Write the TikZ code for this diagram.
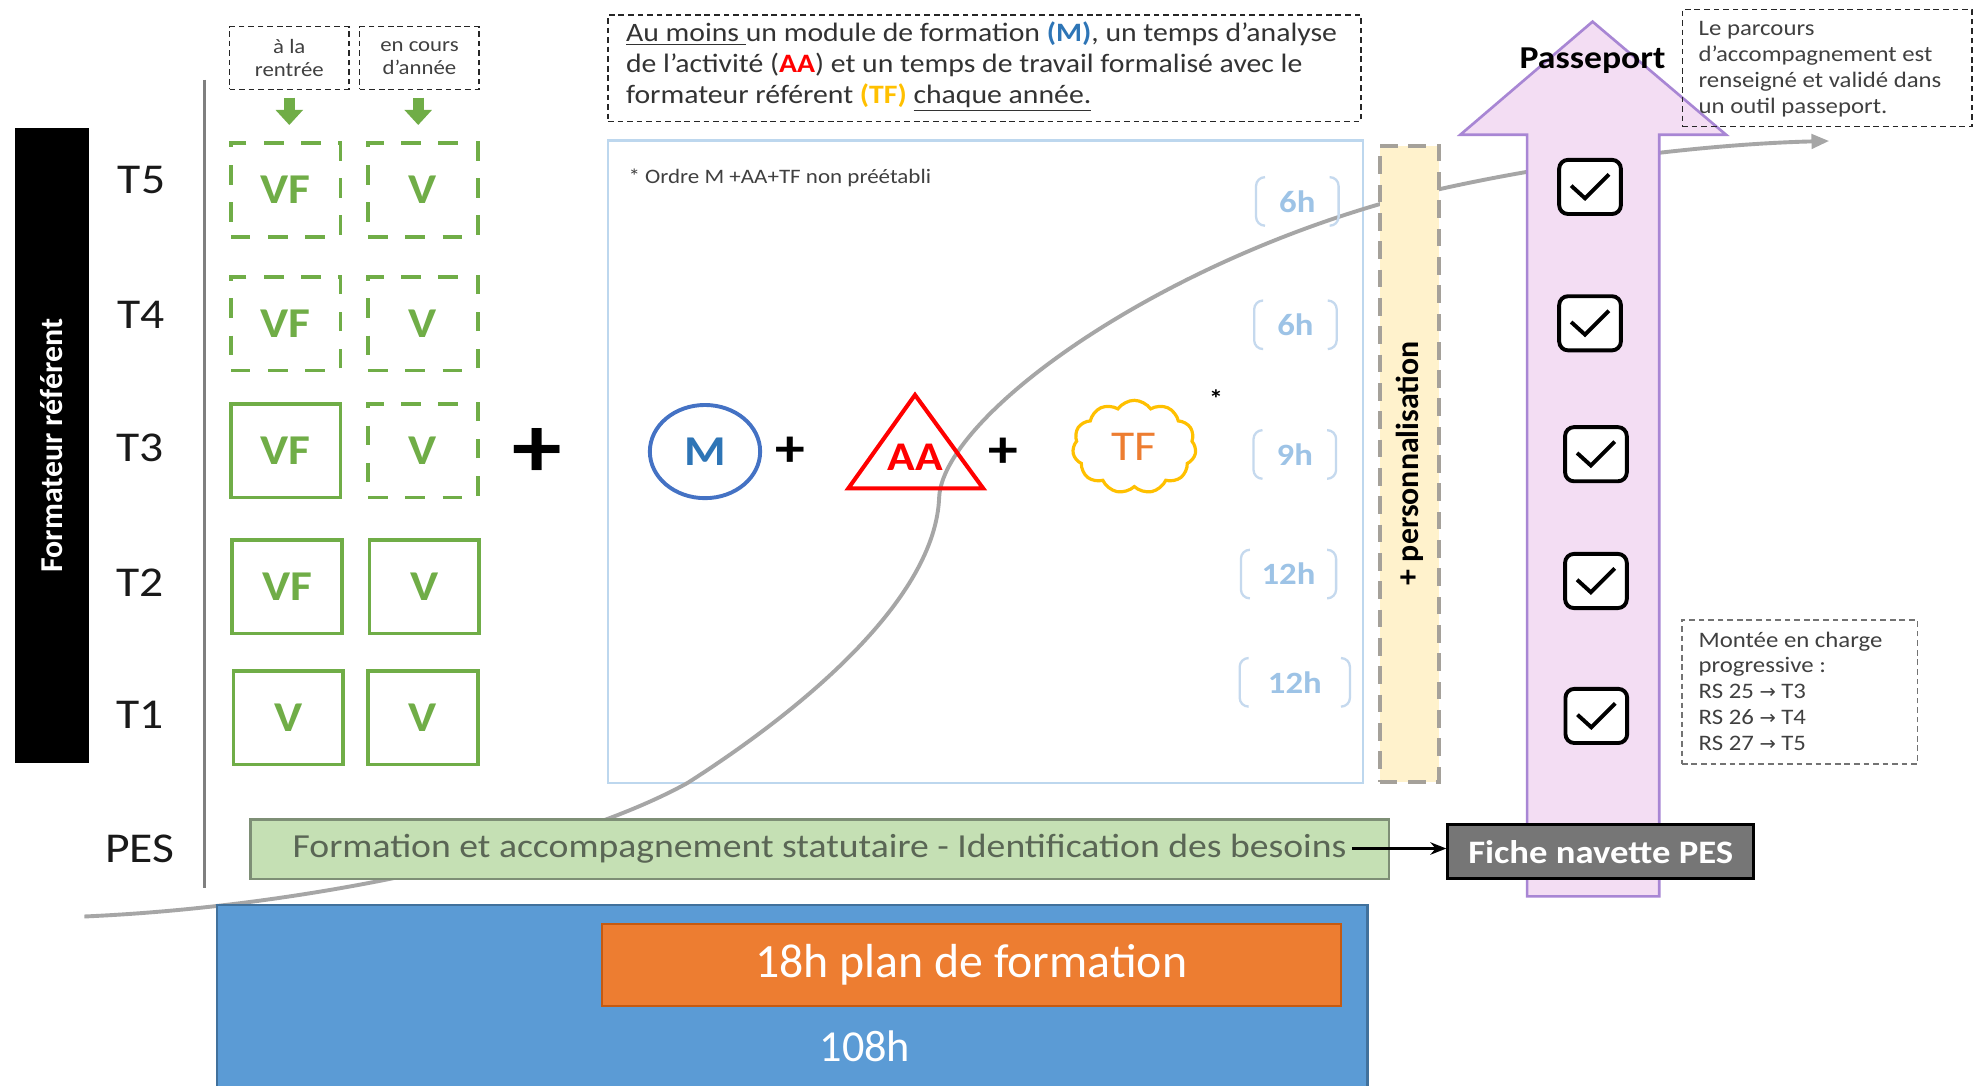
\documentclass[tikz,border=0pt]{standalone}
\usepackage{fontspec}
\setmainfont{Carlito}[FakeStretch=1.12]
\newfontfamily\plainfont{Carlito}
\newfontfamily\arrowfont{DejaVu Sans}
\usetikzlibrary{shapes.geometric,shapes.symbols,arrows.meta,calc}
\definecolor{vgreen}{HTML}{70AD47}
\definecolor{mblue}{HTML}{4472C4}
\definecolor{mtext}{HTML}{2E75B6}
\definecolor{aared}{HTML}{FF0000}
\definecolor{tfyellow}{HTML}{FFC000}
\definecolor{tforange}{HTML}{ED7D31}
\definecolor{hrstext}{HTML}{9DC3E6}
\definecolor{hrsbrk}{HTML}{C5D9EE}
\definecolor{boxblue}{HTML}{BDD7EE}
\definecolor{persfill}{HTML}{FFF2CC}
\definecolor{persdraw}{HTML}{A5A19A}
\definecolor{passfill}{HTML}{F3DDF3}
\definecolor{passdraw}{HTML}{A886D4}
\definecolor{pesfill}{HTML}{C5E0B4}
\definecolor{pesdraw}{HTML}{7E8F76}
\definecolor{pestxt}{HTML}{5A6655}
\definecolor{fichefill}{HTML}{767676}
\definecolor{bigblue}{HTML}{5B9BD5}
\definecolor{bigbluedraw}{HTML}{41719C}
\definecolor{orangefill}{HTML}{ED7D31}
\definecolor{orangedraw}{HTML}{C55A11}
\definecolor{curvegray}{HTML}{A6A6A6}
\definecolor{axisgray}{HTML}{7F7F7F}
\definecolor{txtgray}{HTML}{404040}
\newcommand\fsz[2]{\fontsize{#1}{#2}\selectfont}
\tikzset{
  vbox/.style={draw=vgreen, line width=2.1pt, minimum width=2.175cm, minimum height=1.86cm, text=vgreen, font=\bfseries\fsz{24}{28}},
  vdash/.style={vbox, dash pattern=on 11pt off 10pt},
  dashedbox/.style={draw=black!85, line width=0.8pt, dash pattern=on 3.2pt off 2.2pt},
  hdrbox/.style={dashedbox, minimum width=2.37cm, minimum height=1.245cm, align=center, text=txtgray, font=\fsz{11.5}{13.2}},
  garrow/.style={draw=vgreen, line width=6.4pt, -{Triangle[width=15pt,length=8.5pt]}},
  rowlbl/.style={font=\fsz{24}{28}, text=black!90},
  plusm/.style={font=\bfseries\fsz{30}{30}},
  hrs/.style={minimum height=0.95cm, text=hrstext, font=\bfseries\fsz{17.5}{20}},
  brk/.style={draw=hrsbrk, line width=1.3pt, rounded corners=5pt},
  chk/.style={draw=black, line width=2.2pt, rounded corners=5pt, fill=white, minimum width=1.225cm, minimum height=1.075cm},
  tick/.style={draw=black, line width=2.2pt},
  curve/.style={draw=curvegray, line width=2.2pt},
  smalltxt/.style={anchor=west, align=left, text=txtgray, font=\fsz{12.5}{14.6}}
}
\begin{document}
\begin{tikzpicture}[x=0.025cm, y=-0.025cm, every node/.style={inner sep=0pt}]
\useasboundingbox (0,0) rectangle (1568,862.6);
\fill[white] (0,0) rectangle (1568,862.6);
\clip (0,0) rectangle (1568,862.6);

% left bar and axis
\node[fill=black, minimum width=1.4625cm, minimum height=12.6cm] (bar) at (41.25,354) {};
\node[rotate=90, text=white, font=\plainfont\bfseries\fsz{18}{20}] (barlbl) at (bar.center) {Formateur référent};
\draw[axisgray, line width=1.8pt] (162.6,63.5) -- (162.6,705);

\node[rowlbl] (lt5) at (112.5,143) {T5};
\node[rowlbl] (lt4) at (112,250) {T4};
\node[rowlbl] (lt3) at (111,356) {T3};
\node[rowlbl] (lt2) at (111,463) {T2};
\node[rowlbl] (lt1) at (111,568) {T1};
\node[rowlbl] (lpes) at (111,674) {PES};

% headers
\node[hdrbox] (hdra) at (229.8,46.1) {à la\\rentrée};
\node[hdrbox] (hdrb) at (333.2,46.1) {en cours\\d’année};

% green boxes
\node[vdash] (t5a) at (227,151) {VF};
\node[vdash] (t5b) at (336,151) {V};
\node[vdash] (t4a) at (227,257) {VF};
\node[vdash] (t4b) at (336,257) {V};
\node[vbox] (t3a) at (227,358) {VF};
\node[vdash] (t3b) at (336,358) {V};
\node[vbox] (t2a) at (228,466) {VF};
\node[vbox] (t2b) at (337,466) {V};
\node[vbox] (t1a) at (229,570) {V};
\node[vbox] (t1b) at (336,570) {V};

\draw[garrow] ($(hdra.south)+(0,6)$) -- ($(hdra.south |- t5a.north)+(0,-13)$);
\draw[garrow] ($(hdrb.south)+(-1,6)$) -- ($(hdrb.south |- t5b.north)+(-1,-13)$);

\node[font=\bfseries\fsz{50}{50}] (plusbig) at (427,360) {+};

% top text box
\node[dashedbox, minimum width=14.95cm, minimum height=2.115cm] (topbox) at (782,54.3) {};
\node[anchor=west, align=left, text=black!80, font=\fsz{15}{17.4}] (toptext) at (497,53)
 {\underline{Au moins\ }un module de formation {\bfseries\color{mtext}(M)}, un temps d’analyse\\
  de l’activité ({\bfseries\color{aared}AA}) et un temps de travail formalisé avec le\\
  formateur référent {\bfseries\color{tfyellow}(TF)} \underline{chaque année.}};

% main box
\node[draw=boxblue, line width=1.4pt, minimum width=14.98cm, minimum height=12.7575cm] (mainbox) at (782.8,366.85) {};
\node[anchor=west, text=txtgray, font=\fsz{11.6}{13}] (note) at (499,141) {* Ordre M +AA+TF non préétabli};

% curve
\draw[curve, -{Triangle[length=10pt,width=8pt]}] (67,728) .. controls (250,720) and (450,675) .. (546,622)
  .. controls (640,562) and (743,475) .. (746,395)
  .. controls (749,335) and (900,220) .. (1093,163)
  .. controls (1180,138) and (1330,115) .. (1453,112);

% M + AA + TF
\node[ellipse, draw=mblue, line width=2.2pt, minimum width=2.19cm, minimum height=1.85cm, text=mtext, font=\bfseries\fsz{24}{28}] (mnode) at (560,358.7) {M};
\node[plusm] (plus1) at (627.5,358.8) {+};
\draw[aared, line width=2.3pt, line join=miter] (726.8,313.7) -- (781,388) -- (673.8,388) -- cycle;
\node[text=aared, font=\bfseries\fsz{23}{26}] (aanode) at (727,363) {AA};
\node[plusm] (plus2) at (797,360) {+};
\node[cloud, cloud puffs=11, cloud puff arc=110, aspect=1.35, draw=tfyellow, line width=1.8pt, minimum width=2.45cm, minimum height=1.85cm, text=tforange, font=\fsz{24}{28}] (tfnode) at (901,355) {TF};
\node[font=\bfseries\fsz{14}{14}] (star) at (966,317) {*};

% hours
\node[hrs, minimum width=1.625cm] (h1) at (1030.5,160) {6h};
\node[hrs, minimum width=1.625cm] (h2) at (1029,258) {6h};
\node[hrs, minimum width=1.625cm] (h3) at (1028.5,361) {9h};
\node[hrs, minimum width=1.875cm] (h4) at (1023.5,456) {12h};
\node[hrs, minimum width=2.175cm] (h5) at (1028.5,542) {12h};
\foreach \h in {h1,h2,h3,h4,h5}{
  \draw[brk] ($(\h.north west)+(7,0)$) -- (\h.north west) -- (\h.south west) -- ($(\h.south west)+(7,0)$);
  \draw[brk] ($(\h.north east)+(-7,0)$) -- (\h.north east) -- (\h.south east) -- ($(\h.south east)+(-7,0)$);
}

% personnalisation bar
\node[fill=persfill, draw=persdraw, line width=2.5pt, dash pattern=on 10pt off 6pt, minimum width=1.175cm, minimum height=12.625cm] (pers) at (1119.5,368.5) {};
\node[rotate=90, font=\plainfont\bfseries\fsz{18}{20}] (perslbl) at (1120,368) {+ personnalisation};

% passeport arrow
\filldraw[fill=passfill, draw=passdraw, line width=1.5pt] (1213,712) -- (1213,107) -- (1160,107) -- (1265,17.2) -- (1371,107) -- (1318,107) -- (1318,712) -- cycle;
\node[font=\bfseries\fsz{18}{20}] (passlbl) at (1265,48) {Passeport};
\node[chk] (c1) at (1263,148.5) {};
\node[chk] (c2) at (1263,256.8) {};
\node[chk] (c3) at (1267.7,360.8) {};
\node[chk] (c4) at (1267.7,461.5) {};
\node[chk] (c5) at (1268,568.7) {};
\foreach \c in {c1,c2,c3,c4,c5}{
  \draw[tick] ($(\c.center)+(-15,-1)$) -- ++(11,10) -- ++(19,-19);
}

% side notes
\node[dashedbox, minimum width=5.75cm, minimum height=2.33cm] (rtbox) at (1451.25,54) {};
\node[smalltxt] (rttext) at (1349,55) {Le parcours\\d’accompagnement est\\renseigné et validé dans\\un outil passeport.};
\node[dashedbox, draw=black!55, minimum width=4.675cm, minimum height=2.8625cm] (mtbox) at (1429.5,549.75) {};
\node[smalltxt] (mttext) at (1349,549) {Montée en charge\\progressive :\\RS 25 {\arrowfont\fsz{11}{14.6}→} T3\\RS 26 {\arrowfont\fsz{11}{14.6}→} T4\\RS 27 {\arrowfont\fsz{11}{14.6}→} T5};

% PES row
\node[fill=pesfill, draw=pesdraw, line width=1.3pt, minimum width=22.6cm, minimum height=1.175cm] (pesbox) at (651,674.5) {};
\node[text=pestxt, font=\fsz{19}{21}] (pestext) at (651,674) {Formation et accompagnement statutaire - Identification des besoins};
\node[fill=fichefill, draw=black, line width=1.6pt, minimum width=6.075cm, minimum height=1.075cm, text=white, font=\bfseries\fsz{18.5}{20}] (fiche) at (1271.5,676.5) {Fiche navette PES};
\draw[line width=1.5pt, -{Stealth[length=9pt,width=7pt]}] ([xshift=3pt]pestext.east) -- (pestext.east -| fiche.west);

% bottom boxes
\node[fill=bigblue, draw=bigbluedraw, line width=1.3pt, minimum width=22.835cm, minimum height=3.675cm] (bluebox) at (629.3,792.5) {};
\node[fill=orangefill, draw=orangedraw, line width=1.3pt, minimum width=14.675cm, minimum height=1.625cm, text=white, font=\plainfont\fsz{27}{30}] (orange) at (771.5,766.5) {18h plan de formation};
\node[text=white, font=\plainfont\fsz{25}{28}] (h108) at (687,831) {108h};
\end{tikzpicture}
\end{document}
